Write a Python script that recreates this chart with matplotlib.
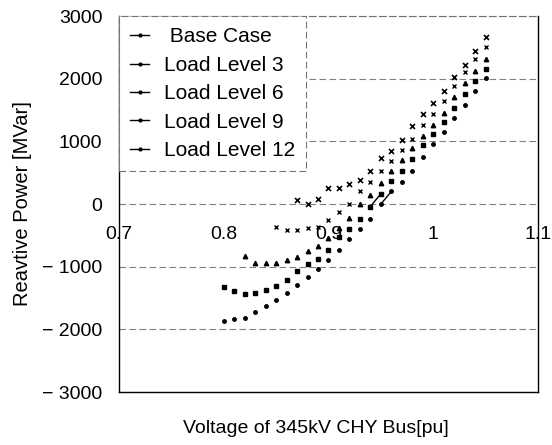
import matplotlib
matplotlib.use("Agg")
import matplotlib.pyplot as plt
from matplotlib.lines import Line2D
import numpy as np


# -------- DATA --------
labels = [" Base Case", "Load Level 3", "Load Level 6", "Load Level 9", "Load Level 12"]

v_base = [0.87, 0.88, 0.89, 0.90, 0.91, 0.92, 0.93, 0.94, 0.95, 0.96, 0.97, 0.98,
          0.99, 1.00, 1.01, 1.02, 1.03, 1.04, 1.05]
q_base = [67, 0, 83, 250, 250, 317, 386, 519, 732, 838, 1014, 1237,
          1435, 1610, 1796, 2025, 2211, 2434, 2673]

v_ll3 = [0.85, 0.86, 0.87, 0.88, 0.89, 0.90, 0.91, 0.92, 0.93, 0.94, 0.95, 0.96,
         0.97, 0.98, 0.99, 1.00, 1.01, 1.02, 1.03, 1.04, 1.05]
q_ll3 = [-369, -422, -422, -385, -369, -263, -120, 3, 200, 349, 519, 679,
         865, 1040, 1256, 1435, 1647, 1891, 2099, 2313, 2504]

v_ll6 = [0.82, 0.83, 0.84, 0.85, 0.86, 0.87, 0.88, 0.89, 0.90, 0.91, 0.92, 0.93,
         0.94, 0.95, 0.96, 0.97, 0.98, 0.99, 1.00, 1.01, 1.02, 1.03, 1.04, 1.05]
q_ll6 = [-827, -944, -944, -944, -891, -848, -745, -665, -540, -385, -226, 0,
         146, 338, 519, 695, 891, 1080, 1260, 1450, 1700, 1930, 2115, 2313]

v_ll9 = [0.80, 0.81, 0.82, 0.83, 0.84, 0.85, 0.86, 0.87, 0.88, 0.89, 0.90, 0.91,
         0.92, 0.93, 0.94, 0.95, 0.96, 0.97, 0.98, 0.99, 1.00, 1.01, 1.02, 1.03,
         1.04, 1.05]
q_ll9 = [-1332, -1396, -1438, -1422, -1380, -1306, -1210, -1077, -955, -880, -731, -530,
         -401, -242, -40, 163, 370, 525, 716, 942, 1120, 1301, 1531, 1759,
         1966, 2158]

v_ll12 = [0.80, 0.81, 0.82, 0.83, 0.84, 0.85, 0.86, 0.87, 0.88, 0.89, 0.90, 0.91,
          0.92, 0.93, 0.94, 0.95, 0.96, 0.97, 0.98, 0.99, 1.00, 1.01, 1.02, 1.03,
          1.04, 1.05]
q_ll12 = [-1859, -1838, -1822, -1725, -1625, -1529, -1423, -1300, -1167, -1034, -891, -731,
          -560, -401, -242, -2, 200, 359, 519, 745, 955, 1157, 1371, 1583,
          1796, 2009]

x_ticks = [0.7, 0.8, 0.9, 1.0, 1.1]
x_ticklabels = ["0.7", "0.8", "0.9", "1", "1.1"]
y_ticks = [-3000, -2000, -1000, 0, 1000, 2000, 3000]
y_ticklabels = ["\u2212 3000", "\u2212 2000", "\u2212 1000", "0", "1000", "2000", "3000"]


# -------- FIGURE --------
plt.rcParams['font.family'] = ['Liberation Sans', 'DejaVu Sans']

fig = plt.figure(figsize=(5.52, 4.45), dpi=100)
ax = fig.add_axes([0.2156, 0.1191, 0.7590, 0.8449])

series = [
    (v_base, q_base, dict(marker='x', ms=3.6, mew=1.2)),
    (v_ll3, q_ll3, dict(marker='x', ms=3.2, mew=1.0)),
    (v_ll6, q_ll6, dict(marker='^', ms=3.2)),
    (v_ll9, q_ll9, dict(marker='s', ms=2.9)),
    (v_ll12, q_ll12, dict(marker='o', ms=2.5)),
]

for v, q, style in series:
    ax.plot(v, q, linestyle='none', color='k', **style)

# the two short connecting strokes near 0.94-0.96
for v, q in [(v_ll9, q_ll9), (v_ll12, q_ll12)]:
    i = int(np.argmin(np.abs(np.array(q))))
    ax.plot(v[i:i + 2], q[i:i + 2], color='k', lw=1.0)

ax.set_xlim(0.7, 1.1)
ax.set_ylim(-3000, 3000)

ax.set_xticks(x_ticks)
ax.set_xticklabels(x_ticklabels)
ax.set_yticks(y_ticks)
ax.set_yticklabels(y_ticklabels)

ax.tick_params(axis='both', length=0, labelsize=14)
ax.tick_params(axis='x', pad=16)
ax.tick_params(axis='y', pad=12)

# horizontal axis crosses at zero, like the original
ax.spines['bottom'].set_position(('data', 0))
ax.spines['bottom'].set_visible(False)
ax.plot([0, 1], [0, 0], transform=ax.transAxes, color='k', lw=1.0, clip_on=False)

for s in ['left', 'right']:
    ax.spines[s].set_linewidth(1.0)
ax.spines['top'].set_color('0.45')
ax.spines['top'].set_linestyle((0, (6, 3)))

ax.yaxis.grid(True, color='0.5', linestyle=(0, (6, 3)), linewidth=0.8)
ax.set_axisbelow(True)

ax.set_ylabel("Reavtive Power [MVar]", fontsize=14.5, labelpad=7)
ax.set_xlabel("Voltage of 345kV CHY Bus[pu]", fontsize=14)
ax.xaxis.set_label_coords(0.47, -0.075)

# -------- LEGEND --------
handles = [Line2D([], [], color='k', lw=1.0, marker='.', ms=4) for _ in labels]
leg = ax.legend(handles, labels, loc='upper left', bbox_to_anchor=(0, 1),
                fontsize=15, frameon=True, fancybox=False, framealpha=1,
                handlelength=0.9, handletextpad=0.7, labelspacing=0.45,
                borderaxespad=0, borderpad=0.55)
leg.get_frame().set_edgecolor('0.45')
leg.get_frame().set_linestyle((0, (6, 3)))
leg.get_frame().set_linewidth(0.8)

fig.savefig("out.png", dpi=100)
